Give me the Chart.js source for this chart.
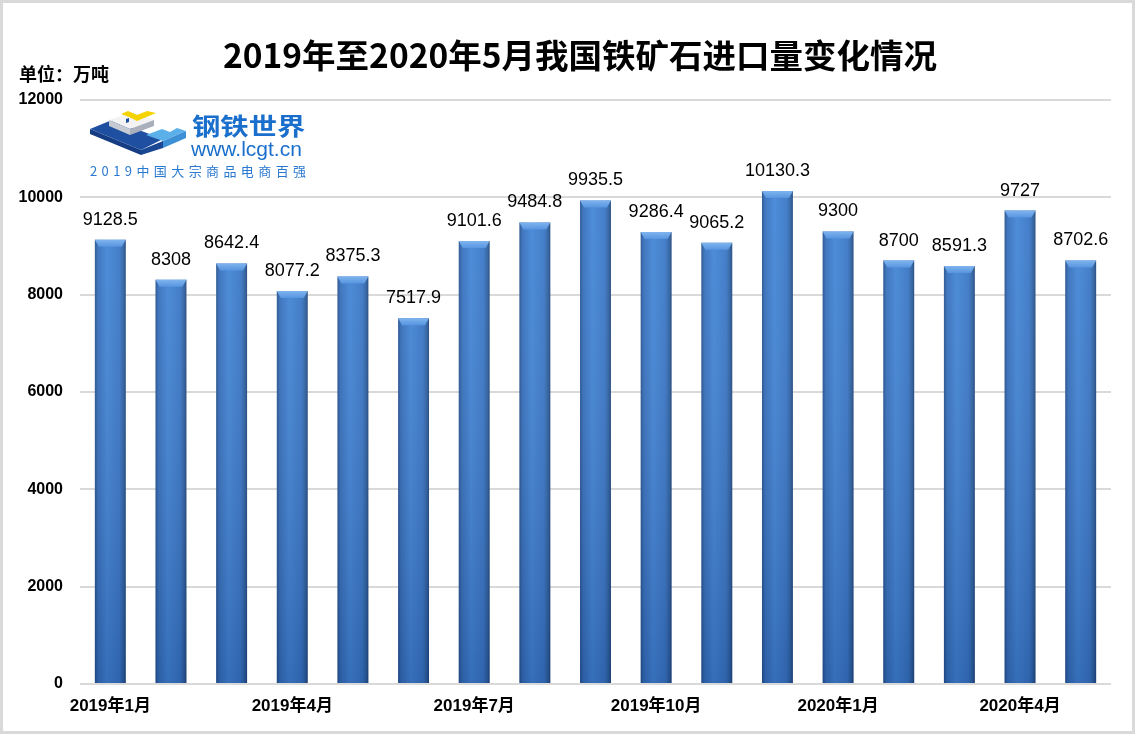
<!DOCTYPE html>
<html>
<head>
<meta charset="utf-8">
<script src="https://cdn.jsdelivr.net/npm/chart.js@4/dist/chart.umd.min.js"></script>
<style>
html,body{margin:0;padding:0;background:#fff;}
canvas{display:block;}
</style>
</head>
<body>
<canvas id="c" width="1135" height="734"></canvas>
<script>
// ---- data ----
const categories = ['2019年1月','2019年2月','2019年3月','2019年4月','2019年5月','2019年6月','2019年7月','2019年8月','2019年9月','2019年10月','2019年11月','2019年12月','2020年1月','2020年2月','2020年3月','2020年4月','2020年5月'];
const importVolume = [9128.5, 8308, 8642.4, 8077.2, 8375.3, 7517.9, 9101.6, 9484.8, 9935.5, 9286.4, 9065.2, 10130.3, 9300, 8700, 8591.3, 9727, 8702.6];
const yTicks = [0, 2000, 4000, 6000, 8000, 10000, 12000];
const titleText = '2019年至2020年5月我国铁矿石进口量变化情况';
const unitText = '单位：万吨';

const BAR_PCT = 0.51;

function barGradient(ctx) {
  const chart = ctx.chart;
  const xs = chart.scales && chart.scales.x;
  if (!xs || ctx.dataIndex === undefined) return '#3d7dcf';
  const cx = xs.getPixelForValue(ctx.dataIndex);
  const cw = (xs.right - xs.left) / categories.length;
  const w = cw * BAR_PCT;
  if (!isFinite(cx)) return '#3d7dcf';
  const g = chart.ctx.createLinearGradient(cx - w / 2, 0, cx + w / 2, 0);
  g.addColorStop(0, '#24528f');
  g.addColorStop(0.1, '#3670bd');
  g.addColorStop(0.4, '#4387d9');
  g.addColorStop(0.8, '#3a78c8');
  g.addColorStop(0.93, '#2d609f');
  g.addColorStop(1, '#1f467e');
  return g;
}

const decoPlugin = {
  id: 'deco',
  beforeDraw(chart) {
    const c = chart.ctx;
    c.save();
    c.fillStyle = '#ffffff';
    c.fillRect(0, 0, chart.width, chart.height);
    c.restore();
  },
  afterDatasetsDraw(chart) {
    const c = chart.ctx;
    const meta = chart.getDatasetMeta(0);
    const area = chart.chartArea;
    c.save();
    meta.data.forEach((el, i) => {
      const p = el.getProps(['x', 'y', 'base', 'width'], true);
      const l = p.x - p.width / 2, r = p.x + p.width / 2;
      const vg = c.createLinearGradient(0, area.top, 0, area.bottom);
      vg.addColorStop(0, 'rgba(255,255,255,0.04)');
      vg.addColorStop(1, 'rgba(5,25,70,0.22)');
      c.fillStyle = vg;
      c.fillRect(l, p.y, p.width, p.base - p.y);
      const b = 7;
      const tg = c.createLinearGradient(0, p.y, 0, p.y + b);
      tg.addColorStop(0, '#7fb4ee');
      tg.addColorStop(1, '#5895e0');
      c.fillStyle = tg;
      c.beginPath();
      c.moveTo(l, p.y);
      c.lineTo(r, p.y);
      c.lineTo(r - 4, p.y + b);
      c.lineTo(l + 4, p.y + b);
      c.closePath();
      c.fill();
      c.fillStyle = '#000';
      c.font = '18px "Liberation Sans", Arial, sans-serif';
      c.textAlign = 'center';
      c.textBaseline = 'alphabetic';
      c.fillText(String(importVolume[i]), p.x, p.y - 15);
    });
    c.restore();
  },
  afterDraw(chart) {
    const c = chart.ctx;
    c.save();
    c.strokeStyle = '#d9d9d9';
    c.lineWidth = 3;
    c.strokeRect(1.5, 1.5, chart.width - 3, chart.height - 3);
    c.fillStyle = '#000';
    c.font = 'bold 33.5px "Noto Sans CJK SC", sans-serif';
    c.textAlign = 'center';
    c.textBaseline = 'middle';
    c.fillText(titleText, 580, 55);
    c.font = 'bold 18px "Noto Sans CJK SC", serif';
    c.textAlign = 'left';
    c.fillText(unitText, 19, 74);
    const poly = (pts, col) => {
      c.fillStyle = col;
      c.beginPath();
      c.moveTo(pts[0][0], pts[0][1]);
      for (let k = 1; k < pts.length; k++) c.lineTo(pts[k][0], pts[k][1]);
      c.closePath();
      c.fill();
    };
    // dark slab
    poly([[90,129],[141,150],[141,155],[90,134]], '#163d84');
    poly([[90,129],[112,120],[163,139],[141,150]], '#1f4fa0');
    poly([[141,150],[163,141],[163,148],[141,155]], '#1a4794');
    // light-blue stair
    poly([[146,135],[162,129],[170,132],[177,128],[186,131],[163,141]], '#5cb0ea');
    poly([[163,141],[186,131],[186,138],[163,148]], '#3d8fd6');
    // white block
    poly([[109,120],[133,112],[154,120],[130,129]], '#f3f3f3');
    poly([[109,120],[130,129],[130,135],[109,126]], '#c6cad2');
    poly([[130,129],[154,120],[154,126],[130,135]], '#a9b0bc');
    // yellow L
    poly([[121,114],[128,111],[137,115],[147,111],[156,113],[137,121],[129,117]], '#f5d300');
    poly([[126,119],[129,118],[129,122],[126,123]], '#1f4fa0');
    // logo texts
    c.fillStyle = '#1b6fcc';
    c.textBaseline = 'alphabetic';
    c.save();
    c.translate(192, 135);
    c.scale(1.18, 1);
    c.font = 'bold 24px "Noto Sans CJK SC", sans-serif';
    c.fillText('钢铁世界', 0, 0);
    c.restore();
    c.font = '21px "Liberation Sans", Arial, sans-serif';
    c.fillText('www.lcgt.cn', 191, 156);
    c.fillStyle = '#2a79d0';
    c.font = '13px "Noto Sans CJK SC", sans-serif';
    try { c.letterSpacing = '4.4px'; } catch (e) {}
    c.fillText('2019中国大宗商品电商百强', 90, 176);
    try { c.letterSpacing = '0px'; } catch (e) {}
    c.restore();
  }
};

new Chart(document.getElementById('c'), {
  type: 'bar',
  data: {
    labels: categories,
    datasets: [{
      label: '铁矿石进口量',
      data: importVolume,
      backgroundColor: barGradient,
      borderWidth: 0,
      categoryPercentage: 1,
      barPercentage: BAR_PCT
    }]
  },
  options: {
    responsive: false,
    animation: false,
    devicePixelRatio: 1,
    layout: { padding: { left: 0, right: 24, top: 100, bottom: 0 } },
    plugins: {
      legend: { display: false },
      title: { display: false },
      tooltip: { enabled: false }
    },
    scales: {
      x: {
        grid: { display: false, drawTicks: false },
        border: { display: false },
        ticks: {
          autoSkip: false,
          maxRotation: 0,
          minRotation: 0,
          padding: 12,
          color: '#000',
          font: { family: '"Liberation Sans", "Noto Sans CJK SC", sans-serif', size: 17, weight: 'bold' },
          callback: (v, i) => (i % 3 === 0 ? categories[i] : '')
        },
        afterFit: (s) => { s.height = 50; }
      },
      y: {
        min: 0,
        max: 12000,
        afterBuildTicks: (s) => { s.ticks = yTicks.map(v => ({ value: v })); },
        grid: { color: '#d9d9d9', lineWidth: 2, drawTicks: false },
        border: { display: false },
        ticks: {
          padding: 17,
          color: '#000',
          font: { family: '"Liberation Sans", Arial, sans-serif', size: 16, weight: 'bold' },
          callback: (v) => String(v)
        },
        afterFit: (s) => { s.width = 80; }
      }
    }
  },
  plugins: [decoPlugin]
});
</script>
</body>
</html>
